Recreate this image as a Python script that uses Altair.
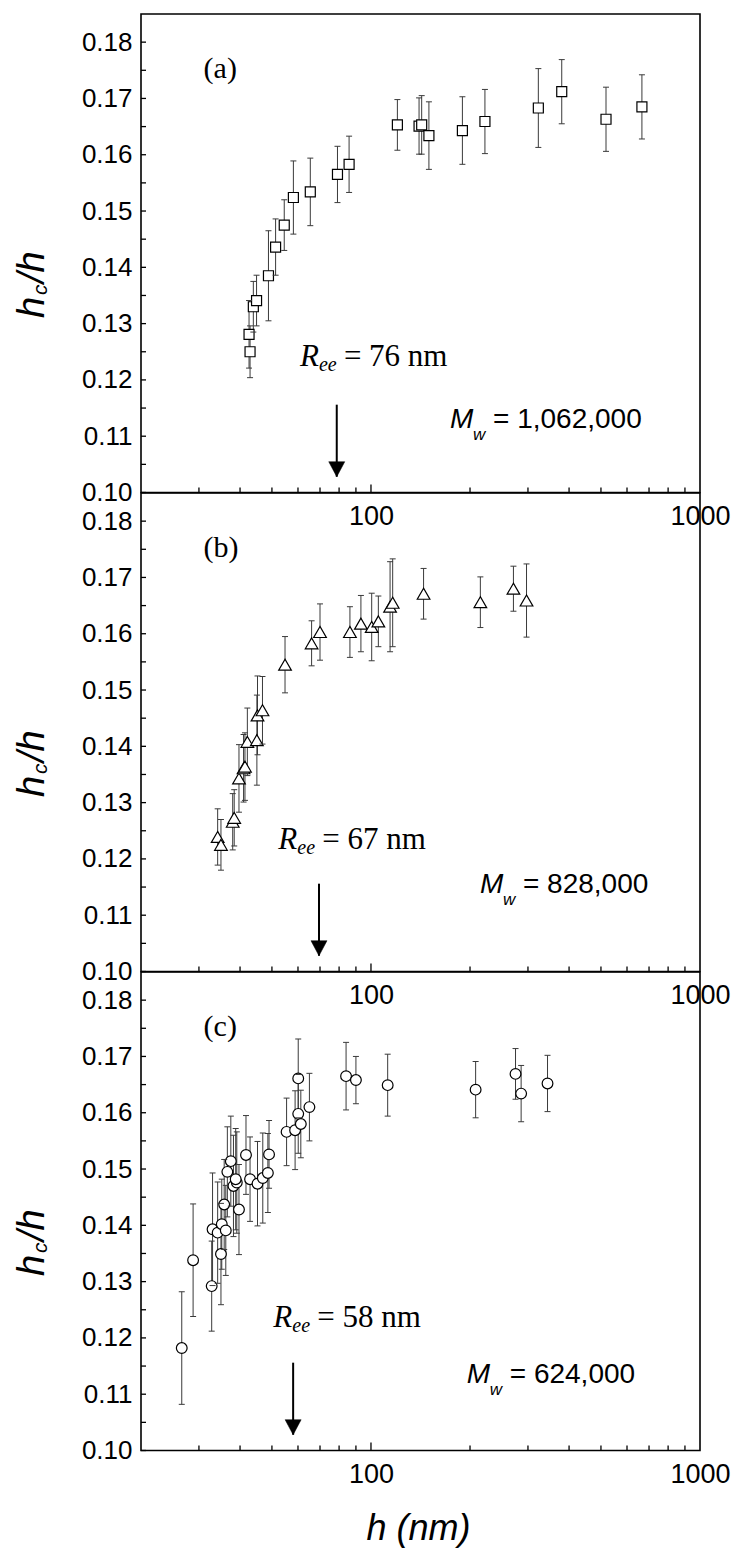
import altair as alt
import pandas as pd

# ---------------- data ----------------
# panel (a): Mw = 1,062,000  (open squares)
a_h = [42.9, 42.6, 43.9, 44.9, 48.8, 51.3, 54.5, 58.1, 65.4, 79.1, 85.8,
       120.3, 140.0, 142.6, 150.0, 189.6, 222.0, 322.6, 380.0, 518.0, 666.0]
a_r = [0.1250, 0.1281, 0.1330, 0.1341, 0.1385, 0.1436, 0.1475, 0.1524, 0.1534,
       0.1565, 0.1583, 0.1653, 0.1651, 0.1653, 0.1634, 0.1643, 0.1659, 0.1683,
       0.1712, 0.1663, 0.1685]
a_e = [0.0046, 0.0060, 0.0045, 0.0045, 0.0080, 0.0050, 0.0045, 0.0065, 0.0060,
       0.0050, 0.0050, 0.0045, 0.0050, 0.0052, 0.0060, 0.0060, 0.0057, 0.0070,
       0.0057, 0.0057, 0.0057]

# panel (b): Mw = 828,000  (open triangles)
b_h = [34.2, 35.0, 38.0, 38.4, 39.7, 41.0, 41.4, 42.1, 45.0, 45.2, 46.8, 54.8,
       66.0, 70.0, 86.3, 93.2, 100.5, 105.3, 114.3, 116.4, 144.5, 215.0, 271.0, 297.0]
b_r = [0.1239, 0.1225, 0.1266, 0.1273, 0.1343, 0.1361, 0.1364, 0.1408, 0.1411,
       0.1455, 0.1464, 0.1545, 0.1583, 0.1603, 0.1603, 0.1618, 0.1612, 0.1622,
       0.1648, 0.1655, 0.1671, 0.1656, 0.1680, 0.1659]
b_e = [0.0050, 0.0045, 0.0050, 0.0050, 0.0060, 0.0060, 0.0060, 0.0060, 0.0080,
       0.0070, 0.0060, 0.0050, 0.0040, 0.0050, 0.0045, 0.0050, 0.0060, 0.0045,
       0.0080, 0.0078, 0.0045, 0.0045, 0.0040, 0.0065]

# panel (c): Mw = 624,000  (open circles)
c_h = [26.6, 28.8, 32.8, 33.0, 34.2, 35.0, 35.2, 36.2, 35.8, 36.6, 37.5, 38.2,
       39.1, 38.8, 39.7, 41.7, 42.9, 45.2, 46.9, 48.6, 49.0, 55.4, 58.8, 60.1,
       60.1, 61.2, 65.0, 84.0, 90.0, 112.4, 208.0, 275.0, 286.0, 344.0]
c_r = [0.1182, 0.1338, 0.1292, 0.1393, 0.1387, 0.1349, 0.1402, 0.1391, 0.1437,
       0.1495, 0.1514, 0.1470, 0.1476, 0.1482, 0.1428, 0.1525, 0.1482, 0.1474,
       0.1484, 0.1493, 0.1526, 0.1566, 0.1569, 0.1598, 0.1661, 0.1580, 0.1610,
       0.1665, 0.1658, 0.1649, 0.1641, 0.1669, 0.1634, 0.1652]
c_e = [0.0100, 0.0100, 0.0080, 0.0100, 0.0090, 0.0090, 0.0080, 0.0080, 0.0080,
       0.0080, 0.0080, 0.0090, 0.0090, 0.0090, 0.0080, 0.0070, 0.0075, 0.0075,
       0.0080, 0.0070, 0.0060, 0.0060, 0.0070, 0.0070, 0.0070, 0.0060, 0.0060,
       0.0060, 0.0042, 0.0055, 0.0050, 0.0045, 0.0050, 0.0050]

# annotations
panel_tags = ["(a)", "(b)", "(c)"]
ree_text = ["= 76 nm", "= 67 nm", "= 58 nm"]
mw_text = ["= 1,062,000", "= 828,000", "= 624,000"]
arrow_h = [78.7, 69.5, 58.0]
ree_h = [60.8, 52.3, 50.5]
ree_r = [0.1225, 0.1218, 0.1219]
mw_h = [173.9, 214.4, 195.5]
mw_r = [0.1114, 0.1139, 0.1120]
tag_h = [31.0, 31.0, 31.0]
tag_r = [0.1737, 0.1737, 0.1737]
arrow_top = [0.1156, 0.1156, 0.1156]
arrow_tip = [0.1028, 0.1028, 0.1028]

# axes
y_label_vals = [0.10, 0.11, 0.12, 0.13, 0.14, 0.15, 0.16, 0.17, 0.18]
y_tick_vals = [0.100, 0.105, 0.110, 0.115, 0.120, 0.125, 0.130, 0.135, 0.140,
               0.145, 0.150, 0.155, 0.160, 0.165, 0.170, 0.175, 0.180]
x_label_vals = [100, 1000]
x_minor_vals = [30, 40, 50, 60, 70, 80, 90, 200, 300, 400, 500, 600, 700, 800, 900]
x_major_vals = [100]

# ---------------- chart ----------------
W, H = 559, 478.5
SANS = "Liberation Sans"
SERIF = "Liberation Serif"
BAR = "#3a3a3a"
HEAD = "M-1,-0.94L1,-0.94L0,0.94Z"

xs = alt.Scale(type="log", domain=[20, 1000], nice=False)
ys = alt.Scale(domain=[0.10, 0.185], nice=False, zero=False)

XA = alt.Axis(values=x_label_vals, format="d", ticks=False, tickSize=0,
              domain=False, grid=False, labelPadding=11, labelFlush=False,
              labelOverlap=False, title=None, labelFontSize=27,
              labelFont=SANS, labelColor="black")
YA = alt.Axis(values=y_label_vals, format=".2f", ticks=False, tickSize=0,
              domain=False, grid=False, labelPadding=9, title=None,
              labelFontSize=26, labelFont=SANS, labelColor="black")


def X(field):
    return alt.X(field, scale=xs, axis=XA)


def Y(field):
    return alt.Y(field, scale=ys, axis=YA)


def panel(i, hv, rv, ev, shape, size, last):
    df = pd.DataFrame({"h": hv, "r": rv, "e": ev})
    df["lo"] = df["r"] - df["e"]
    df["hi"] = df["r"] + df["e"]

    yt = alt.Chart(pd.DataFrame({"t": y_tick_vals})).mark_rule(
        color="black", strokeWidth=1.3).encode(
        y=Y("t:Q"), x=alt.value(0), x2=alt.value(5))
    xt_min = alt.Chart(pd.DataFrame({"t": x_minor_vals})).mark_rule(
        color="black", strokeWidth=1.3).encode(
        x=X("t:Q"), y=alt.value(H), y2=alt.value(H - 5))
    xt_maj = alt.Chart(pd.DataFrame({"t": x_major_vals})).mark_rule(
        color="black", strokeWidth=1.3).encode(
        x=X("t:Q"), y=alt.value(H), y2=alt.value(H - 8))

    bars = alt.Chart(df).mark_rule(color=BAR, strokeWidth=1).encode(
        x=X("h:Q"), y=Y("lo:Q"), y2="hi:Q")
    pts = alt.Chart(df).mark_point(
        shape=shape, size=size, filled=True, fill="white", stroke="black",
        strokeWidth=1.2, opacity=1).encode(x=X("h:Q"), y=Y("r:Q"))
    cap_lo = alt.Chart(df).mark_tick(orient="horizontal", size=6, thickness=1,
                                     color=BAR, opacity=1).encode(x=X("h:Q"), y=Y("lo:Q"))
    cap_hi = alt.Chart(df).mark_tick(orient="horizontal", size=6, thickness=1,
                                     color=BAR, opacity=1).encode(x=X("h:Q"), y=Y("hi:Q"))

    arr = pd.DataFrame({"h": [arrow_h[i]], "top": [arrow_top[i]], "tip": [arrow_tip[i]]})
    shaft = alt.Chart(arr).mark_rule(color="black", strokeWidth=2).encode(
        x=X("h:Q"), y=Y("top:Q"), y2="tip:Q")
    head = alt.Chart(arr).mark_point(shape=HEAD, size=256, filled=True,
                                     fill="black", stroke="black", strokeWidth=0.5,
                                     opacity=1, yOffset=-7.5).encode(
        x=X("h:Q"), y=Y("tip:Q"))

    tag = alt.Chart(pd.DataFrame({"h": [tag_h[i]], "r": [tag_r[i]], "t": [panel_tags[i]]})).mark_text(
        font=SERIF, fontSize=30, align="left", baseline="alphabetic", color="black").encode(
        x=X("h:Q"), y=Y("r:Q"), text="t:N")

    ree = pd.DataFrame({"h": [ree_h[i]], "r": [ree_r[i]], "t": [ree_text[i]]})
    r1 = alt.Chart(ree).mark_text(text="R", font=SERIF, fontSize=31, fontStyle="italic",
                                  align="left", baseline="alphabetic", color="black").encode(
        x=X("h:Q"), y=Y("r:Q"))
    r2 = alt.Chart(ree).mark_text(text="ee", font=SERIF, fontSize=20, fontStyle="italic",
                                  align="left", baseline="alphabetic", dx=19, dy=5,
                                  color="black").encode(x=X("h:Q"), y=Y("r:Q"))
    r3 = alt.Chart(ree).mark_text(font=SERIF, fontSize=31, align="left",
                                  baseline="alphabetic", dx=44, color="black").encode(
        x=X("h:Q"), y=Y("r:Q"), text="t:N")

    mw = pd.DataFrame({"h": [mw_h[i]], "r": [mw_r[i]], "t": [mw_text[i]]})
    m1 = alt.Chart(mw).mark_text(text="M", font=SANS, fontSize=28, fontStyle="italic",
                                 align="left", baseline="alphabetic", color="black").encode(
        x=X("h:Q"), y=Y("r:Q"))
    m2 = alt.Chart(mw).mark_text(text="w", font=SANS, fontSize=17, fontStyle="italic",
                                 align="left", baseline="alphabetic", dx=23, dy=12,
                                 color="black").encode(x=X("h:Q"), y=Y("r:Q"))
    m3 = alt.Chart(mw).mark_text(font=SANS, fontSize=28, align="left",
                                 baseline="alphabetic", dx=43, color="black").encode(
        x=X("h:Q"), y=Y("r:Q"), text="t:N")

    dummy = pd.DataFrame({"k": [0]})
    t1 = alt.Chart(dummy).mark_text(text="h", font=SANS, fontSize=38, fontStyle="italic",
                                    angle=270, align="left", baseline="alphabetic",
                                    color="black").encode(x=alt.value(-97), y=alt.value(304))
    t2 = alt.Chart(dummy).mark_text(text="c", font=SANS, fontSize=21, fontStyle="italic",
                                    angle=270, align="left", baseline="alphabetic",
                                    color="black").encode(x=alt.value(-94), y=alt.value(281))
    t3 = alt.Chart(dummy).mark_text(text="/h", font=SANS, fontSize=38, fontStyle="italic",
                                    angle=270, align="left", baseline="alphabetic",
                                    color="black").encode(x=alt.value(-97), y=alt.value(269))

    layers = [yt, xt_min, xt_maj, bars, pts, cap_lo, cap_hi, shaft, head,
              tag, r1, r2, r3, m1, m2, m3, t1, t2, t3]
    if last:
        xt = alt.Chart(dummy).mark_text(text="h (nm)", font=SANS, fontSize=36,
                                        fontStyle="italic", align="center",
                                        baseline="alphabetic", color="black").encode(
            x=alt.value(W / 2 - 2), y=alt.value(H + 89))
        layers.append(xt)
    return alt.layer(*layers).properties(width=W, height=H)


pa = panel(0, a_h, a_r, a_e, "square", 100, False)
pb = panel(1, b_h, b_r, b_e, "triangle-up", 160, False)
pc = panel(2, c_h, c_r, c_e, "circle", 115, True)

chart = alt.vconcat(pa, pb, pc, spacing=0, bounds="flush").properties(
    padding={"left": 13, "top": 13, "right": 0, "bottom": 0},
    background="white",
).configure_view(stroke="black", strokeWidth=1.6)

chart.save("out.html", embed_options={"renderer": "svg", "actions": False})
